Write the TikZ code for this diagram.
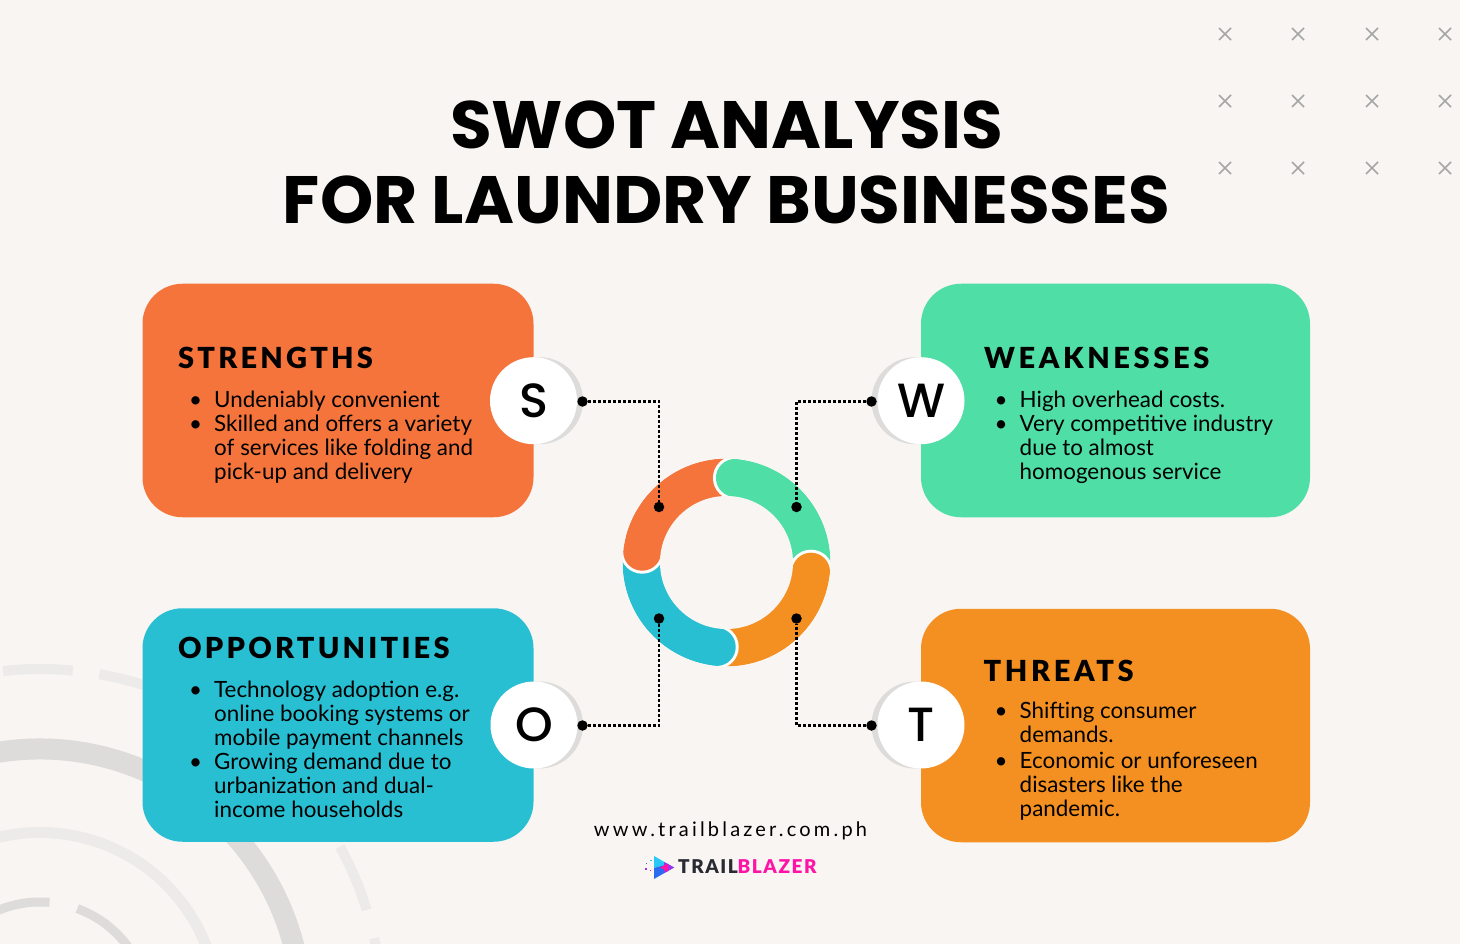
\documentclass[tikz,border=0pt]{standalone}
\usepackage{fontspec}
\setmainfont{Lato}
\newfontfamily\titlefont[FakeStretch=1.012]{Poppins Bold}
\newfontfamily\letterfont{Poppins Medium}
\newfontfamily\headfont[LetterSpace=11]{Lato Black}
\newfontfamily\headwidefont[LetterSpace=12.5]{Lato Black}
\newfontfamily\webfont[LetterSpace=16]{Lato}
\newfontfamily\logofont[LetterSpace=8]{Lato Black}
\definecolor{bg}{HTML}{F8F5F2}
\definecolor{corange}{HTML}{F4743B}
\definecolor{cgreen}{HTML}{4FDEA6}
\definecolor{cblue}{HTML}{29BFD3}
\definecolor{camber}{HTML}{F49021}
\definecolor{ringdark}{HTML}{DDDCDA}
\definecolor{ringlight}{HTML}{ECEBE9}
\definecolor{xgray}{HTML}{A6A6A6}
\definecolor{lpink}{HTML}{FF12A6}
\definecolor{ldark}{HTML}{2A2A33}
\definecolor{lcyan}{HTML}{2AC8F5}
\definecolor{lblue}{HTML}{2A6BF0}
\definecolor{lpurple}{HTML}{A030F0}
\newcommand{\bl}{\leavevmode\rule{0pt}{18pt}\llap{\textbullet\hspace{12pt}}}
\newcommand{\dl}[1]{\raisebox{-4pt}{#1}}
\tikzset{
  card/.style={rounded corners=40pt,minimum width=#1,minimum height=233.5pt,inner sep=0pt,draw=none},
  head/.style={anchor=base west,inner sep=0pt,font=\fontsize{29}{29}\selectfont\headfont},
  headwide/.style={anchor=base west,inner sep=0pt,font=\fontsize{29}{29}\selectfont\headwidefont},
  body/.style={anchor=north west,inner sep=0pt,align=left,font=\fontsize{22.4}{24}\selectfont},
  disc/.style={circle,fill=white,minimum size=87pt,inner sep=0pt,font=\fontsize{48}{48}\selectfont\letterfont},
  shade/.style={circle,fill=ringdark,minimum size=87pt,inner sep=0pt},
  dot/.style={circle,fill=black,minimum size=10.5pt,inner sep=0pt},
  link/.style={line width=2.6pt,black,dash pattern=on 2.8pt off 2.2pt},
  seg/.style={line width=38pt,line cap=butt},
  bgarc/.style={line cap=butt},
}
\begin{document}
\begin{tikzpicture}[x=1pt,y=1pt,yscale=-1]
\useasboundingbox (0,0) rectangle (1460,944);
\fill[bg] (0,0) rectangle (1460,944);
% background arcs
\begin{scope}
\clip (0,0) rectangle (1460,944);
\def\cx{40}\def\cy{1011}
\draw[bgarc,ringdark,line width=21pt] (\cx,\cy)+(-120:262) arc (-120:10:262);
\draw[bgarc,ringlight,line width=11pt] (\cx,\cy)+(-120:178.5) arc (-120:10:178.5);
\draw[bgarc,ringlight,line width=10pt] (\cx,\cy)+(-96.2:342) arc (-96.2:-84.5:342);
\draw[bgarc,ringlight,line width=10pt] (\cx,\cy)+(-80:342) arc (-80:-60:342);
\draw[bgarc,ringlight,line width=10pt] (\cx,\cy)+(-28.7:342) arc (-28.7:-17.2:342);
\draw[bgarc,ringlight,line width=10pt] (\cx,\cy)+(-12.3:342) arc (-12.3:-3:342);
\draw[bgarc,ringdark,line width=9pt] (\cx,\cy)+(-120:109) arc (-120:-85:109);
\draw[bgarc,ringdark,line width=9pt] (\cx,\cy)+(-70:109) arc (-70:-25:109);
\end{scope}
% crosses
\foreach \x in {1225,1298,1372,1445}\foreach \y in {34,101,168}
  \draw[xgray,line width=1.5pt] (\x-6,\y-6) -- (\x+6,\y+6) (\x-6,\y+6) -- (\x+6,\y-6);
% title
\node[inner sep=0pt,anchor=base] (title1) at (726.5,148.5) {\fontsize{67}{67}\selectfont\titlefont SWOT ANALYSIS};
\node[inner sep=0pt,anchor=base] (title2) at (726.5,223.5) {\fontsize{67}{67}\selectfont\titlefont FOR LAUNDRY BUSINESSES};
% cards
\node[card=391pt,fill=corange] (cs) at (338,400.5) {};
\node[card=389pt,fill=cgreen] (cw) at (1115.5,400.5) {};
\node[card=391pt,fill=cblue] (co) at (338,725) {};
\node[card=389pt,fill=camber] (ct) at (1115.5,725.5) {};
% ring
\def\rx{726.5}\def\ry{562.5}\def\rr{85}
\draw[seg,corange] (\rx,\ry)+(-172.7:\rr) arc (-172.7:-84.3:\rr);
\fill[white] (\rx,\ry)+(-84.3:\rr) circle (22);
\draw[seg,cgreen] (\rx,\ry)+(-84.3:\rr) arc (-84.3:6.2:\rr);
\fill[cgreen] (\rx,\ry)+(-84.3:\rr) circle (19);
\fill[white] (\rx,\ry)+(6.2:\rr) circle (22);
\draw[seg,camber] (\rx,\ry)+(6.2:\rr) arc (6.2:96.6:\rr);
\fill[camber] (\rx,\ry)+(6.2:\rr) circle (19);
\fill[white] (\rx,\ry)+(96.6:\rr) circle (22);
\draw[seg,cblue] (\rx,\ry)+(96.6:\rr) arc (96.6:187.3:\rr);
\fill[cblue] (\rx,\ry)+(96.6:\rr) circle (19);
\fill[white] (\rx,\ry)+(-172.7:\rr) circle (22);
\draw[seg,corange] (\rx,\ry)+(-172.7:\rr) arc (-172.7:-150:\rr);
\fill[corange] (\rx,\ry)+(-172.7:\rr) circle (19);
\draw[bg,line width=5pt] (\rx,\ry) circle (106.5);
\draw[bg,line width=5pt] (\rx,\ry) circle (64);
% discs
\node[shade] (gs) at (539.5,400.7) {};
\node[shade] (gw) at (915,400.7) {};
\node[shade] (go) at (539.5,725) {};
\node[shade] (gt) at (915,725) {};
\node[disc] (ds) at (533.5,400.7) {\dl{S}};
\node[disc] (dw) at (921,400.7) {\dl{W}};
\node[disc] (do) at (534,725) {\dl{O}};
\node[disc] (dt) at (921,725) {\dl{T}};
% connectors
\node[dot] (a1) at (582.5,401.5) {};
\node[dot] (a2) at (659,507) {};
\node[dot] (b1) at (871.5,401.5) {};
\node[dot] (b2) at (796.5,507) {};
\node[dot] (c1) at (582.5,725.5) {};
\node[dot] (c2) at (659,618.5) {};
\node[dot] (d1) at (871.5,725.5) {};
\node[dot] (d2) at (796.5,618.5) {};
\draw[link] (a1) -| (a2);
\draw[link] (b1) -| (b2);
\draw[link] (c1) -| (c2);
\draw[link] (d1) -| (d2);
% headings
\node[head] (hs) at (178,368) {STRENGTHS};
\node[headwide] (hw) at (984,368) {WEAKNESSES};
\node[head] (ho) at (178,658) {OPPORTUNITIES};
\node[headwide] (ht) at (983.5,681) {THREATS};
% body
\node[body] (ts) at (214,389) {\bl Undeniably convenient\\\bl Skilled and offers a variety\\of services like folding and\\pick-up and delivery};
\node[body] (tw) at (1019.5,389) {\bl High overhead costs.\\\bl Very competitive industry\\due to almost\\homogenous service};
\node[body] (to) at (214,679) {\bl Technology adoption e.g.\\online booking systems or\\mobile payment channels\\\bl Growing demand due to\\urbanization and dual-\\income households};
\node[body] (tt) at (1019.5,700) {\bl Shifting consumer\\demands.\\[2pt]\bl Economic or unforeseen\\disasters like the\\pandemic.};
% footer
\node[inner sep=0pt,anchor=base] (web) at (730.5,836) {\fontsize{20}{20}\selectfont\webfont www.trailblazer.com.ph};
\node[inner sep=0pt,anchor=base west] (logo) at (678,873.5) {\fontsize{19}{19}\selectfont\logofont\textcolor{ldark}{TRAIL}\textcolor{lpink}{BLAZER}};
% logo mark
\fill[lcyan] (654,856) -- (668,864) -- (654,868) -- cycle;
\fill[lblue] (654,868) -- (668,864) -- (674,867.5) -- (654,879) -- cycle;
\fill[lpurple] (664,862) -- (674,867.5) -- (664,873) -- cycle;
\fill[lpink] (660,867.5) -- (668,863.5) -- (668,871.5) -- cycle;
\fill[lcyan] (650,859.5) rectangle +(1.6,1.6);
\fill[lblue] (646,862.5) rectangle +(1.4,1.4);
\fill[lpurple] (645,868) rectangle +(1.6,1.6);
\fill[lpink] (650,869.5) rectangle +(1.4,1.4);
\end{tikzpicture}
\end{document}
